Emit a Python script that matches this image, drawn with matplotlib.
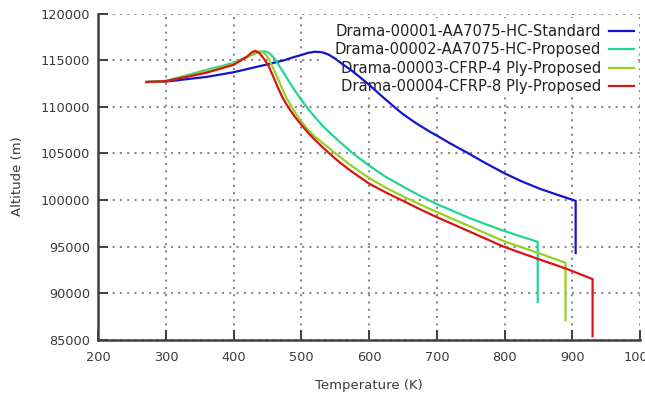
import matplotlib
matplotlib.use("Agg")
import matplotlib.pyplot as plt
from matplotlib.patches import Rectangle

labels = ["Drama-00001-AA7075-HC-Standard",
          "Drama-00002-AA7075-HC-Proposed",
          "Drama-00003-CFRP-4 Ply-Proposed",
          "Drama-00004-CFRP-8 Ply-Proposed"]
colors = ["#1414cc", "#22d49a", "#99d122", "#d81414"]

t1 = [271, 300, 330, 360, 400, 450, 475, 490, 500, 510, 520, 530, 540, 550, 560, 572, 585, 600, 620, 640,
      650, 660, 670, 680, 690, 700, 720, 744, 770, 800, 825, 852, 880, 905, 905]
a1 = [112650, 112700, 112950, 113200, 113700, 114550, 115000, 115350, 115550, 115780, 115900, 115850, 115600,
      115150, 114600, 114000, 113250, 112350, 111050, 109800, 109200, 108700, 108200, 107750, 107300, 106900,
      106050, 105100, 104020, 102850, 102000, 101200, 100500, 99900, 94300]

t2 = [271, 300, 360, 400, 420, 435, 445, 452, 460, 468, 475, 480, 490, 500, 510, 520, 532, 545, 557, 575, 600,
      625, 650, 675, 700, 750, 798, 849, 849]
a2 = [112650, 112780, 113950, 114700, 115350, 115800, 115950, 115800, 115200, 114300, 113500, 112900, 111750,
      110700, 109750, 108880, 107900, 107000, 106200, 105050, 103680, 102450, 101430, 100450, 99550, 98000,
      96700, 95500, 89030]

t3 = [271, 300, 360, 400, 420, 430, 439, 446, 452, 458, 463, 468, 478, 490, 500, 510, 520, 532, 545, 557, 575,
      600, 625, 650, 675, 700, 750, 798, 850, 890, 890]
a3 = [112650, 112750, 113800, 114600, 115300, 115750, 115950, 115700, 115100, 114200, 113400, 112550, 110900,
      109450, 108400, 107500, 106780, 106070, 105300, 104600, 103600, 102350, 101300, 100380, 99520, 98700,
      97120, 95600, 94300, 93250, 87080]

t4 = [271, 300, 360, 400, 420, 427, 432, 438, 444, 451, 458, 465, 472, 480, 490, 500, 510, 520, 532, 545, 557,
      575, 600, 625, 650, 675, 700, 750, 798, 850, 890, 930, 930]
a4 = [112650, 112750, 113650, 114500, 115400, 115850, 116000, 115750, 115200, 114450, 113300, 112100, 111000,
      110000, 108950, 108050, 107200, 106450, 105600, 104750, 104000, 103000, 101750, 100780, 99900, 99000,
      98150, 96550, 95000, 93650, 92650, 91500, 85370]

xticks = [200, 300, 400, 500, 600, 700, 800, 900, 1000]
yticks = [85000, 90000, 95000, 100000, 105000, 110000, 115000, 120000]

fig = plt.figure(figsize=(6.45, 3.94), dpi=100)
ax = fig.add_axes([0.1524, 0.1378, 0.8398, 0.8279])

for t, a, c, l in zip([t1, t2, t3, t4], [a1, a2, a3, a4], colors, labels):
    ax.plot(t, a, color=c, lw=1.6, label=l, solid_joinstyle="round", zorder=3)

ax.set_xlim(200, 1000)
ax.set_ylim(85000, 120000)
ax.set_xticks(xticks)
ax.set_yticks(yticks)
ax.set_xticklabels([str(v) for v in xticks])
ax.set_yticklabels([str(v) for v in yticks])

txtc = "#3a3a3a"
ax.tick_params(axis="both", direction="in", length=7, width=1.4, color="#404040", labelcolor=txtc,
               labelsize=9.3, top=False, right=False)
ax.tick_params(axis="x", pad=8)
ax.tick_params(axis="y", pad=6)
for s in ["top", "right"]:
    ax.spines[s].set_visible(False)
for s in ["left", "bottom"]:
    ax.spines[s].set_color("#404040")
    ax.spines[s].set_linewidth(1.8)

ax.grid(True, color="#8a8a8a", linestyle=(0, (1, 2.5)), linewidth=1.5)
ax.set_axisbelow(True)

# opaque key box (hides grid behind the legend)
ax.add_patch(Rectangle((0.409, 0.756), 0.587, 0.230, transform=ax.transAxes,
                       facecolor="white", edgecolor="none", zorder=1))

ax.set_xlabel("Temperature (K)", fontsize=9.5, color=txtc, labelpad=11)
ax.set_ylabel("Altitude (m)", fontsize=9.5, color=txtc, labelpad=12)

leg = ax.legend(loc="upper right", bbox_to_anchor=(0.9945, 0.977), frameon=False, markerfirst=False,
                fontsize=10.6, handlelength=1.7, labelspacing=0.23, borderaxespad=0.0,
                borderpad=0.2, handletextpad=0.55)
leg.set_zorder(2)
for txt in leg.get_texts():
    txt.set_color("#222222")

fig.savefig("out.png", dpi=100)
